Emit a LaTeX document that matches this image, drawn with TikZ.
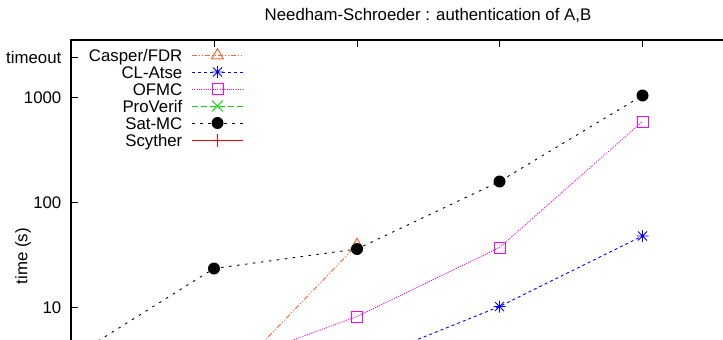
\documentclass[tikz,border=0pt]{standalone}
\usepackage{fontspec}
\setmainfont{Liberation Sans}
\usetikzlibrary{shapes.geometric}

\definecolor{caspercol}{RGB}{255,100,40}
\definecolor{clatsecol}{RGB}{0,0,255}
\definecolor{ofmccol}{RGB}{255,0,255}
\definecolor{proverifcol}{RGB}{0,220,0}
\definecolor{scythercol}{RGB}{255,0,0}

\begin{document}
\begin{tikzpicture}[x=1pt,y=-1pt,
  lbl/.style={font=\fontsize{16.8}{20}\selectfont, inner sep=0pt},
  frame/.style={line width=1.3pt, black},
  axistick/.style={line width=1pt, black},
  series/.style={line width=0.9pt},
  casperline/.style={series, caspercol, dash pattern=on 5pt off 2pt on 1pt off 2pt on 1pt off 2pt},
  clatseline/.style={series, clatsecol, dash pattern=on 3pt off 3pt},
  ofmcline/.style={series, ofmccol, dash pattern=on 1pt off 1.3pt},
  proverifline/.style={series, proverifcol, dash pattern=on 6pt off 3pt},
  satline/.style={series, black, dash pattern=on 2.5pt off 5.5pt},
  scytherline/.style={series, scythercol},
  satmark/.style={circle, fill=black, inner sep=0pt, minimum size=12pt},
  ofmcmark/.style={rectangle, draw=ofmccol, line width=1pt, inner sep=0pt, minimum size=11pt},
  caspermark/.style={regular polygon, regular polygon sides=3, draw=caspercol, line width=1pt, inner sep=0pt, minimum size=13.5pt},
  pics/astmark/.style={code={
    \draw[line width=0.9pt, clatsecol] (-6,0) -- (6,0) (0,-6) -- (0,6)
      (-4.5,-4.5) -- (4.5,4.5) (-4.5,4.5) -- (4.5,-4.5);}},
  pics/crossmark/.style={code={
    \draw[line width=0.9pt, proverifcol] (-5.5,-5.5) -- (5.5,5.5) (-5.5,5.5) -- (5.5,-5.5);}},
  pics/plusmark/.style={code={
    \draw[line width=0.9pt, scythercol] (-6.5,0) -- (6.5,0) (0,-6.5) -- (0,6.5);}}
]
\useasboundingbox (0,0) rectangle (723,340);

% plot frame corners
\coordinate (corner) at (71,40);
\coordinate (topend) at (723,40);
\coordinate (leftend) at (71,340);

% data points (x: columns 0..4, y: log time)
\coordinate (s0) at (71,358);
\coordinate (s1) at (214,268.5);
\coordinate (s2) at (357,249);
\coordinate (s3) at (499.5,181.5);
\coordinate (s4) at (642.5,95.5);

\coordinate (c1) at (214,393);
\coordinate (c2) at (357,245);

\coordinate (o1) at (214,369);
\coordinate (o2) at (357,316.5);
\coordinate (o3) at (499.5,247.5);
\coordinate (o4) at (642.5,121.5);

\coordinate (a2) at (357,364);
\coordinate (a3) at (499.5,306.5);
\coordinate (a4) at (642.5,236);

% curves, clipped to the plot area
\begin{scope}
  \clip (71,40) rectangle (723,340);
  \draw[casperline] (c1) -- (c2);
  \draw[clatseline] (a2) -- (a3) -- (a4);
  \draw[ofmcline] (o1) -- (o2) -- (o3) -- (o4);
  \draw[satline] (s0) -- (s1) -- (s2) -- (s3) -- (s4);
\end{scope}

% point markers
\node[caspermark] (cm2) at (c2) {};
\pic at (a3) {astmark};
\pic at (a4) {astmark};
\node[ofmcmark] (om2) at (o2) {};
\node[ofmcmark] (om3) at (o3) {};
\node[ofmcmark] (om4) at (o4) {};
\node[satmark] (sm1) at (s1) {};
\node[satmark] (sm2) at (s2) {};
\node[satmark] (sm3) at (s3) {};
\node[satmark] (sm4) at (s4) {};

% frame and ticks
\draw[frame] (topend) -- (corner) -- (leftend);
\foreach \yy in {57,97,202.3,307.5}
  \draw[axistick] (71,\yy) -- (78,\yy);
\foreach \xx in {214,357,499.5,642}
  \draw[axistick] (\xx,40) -- (\xx,47);

% axis labels
\node[lbl, anchor=base east] (ytimeout) at (61.5,63) {timeout};
\node[lbl, anchor=base east] (y1000) at (61.5,103) {1000};
\node[lbl, anchor=base east] (y100) at (61.5,208.3) {100};
\node[lbl, anchor=base east] (y10) at (61.5,313.5) {10};
\node[lbl, rotate=90] (ytitle) at (23,256) {time (s)};

% title
\node[lbl, anchor=base] (title) at (428,20) {Needham-Schroeder : authentication of A,B};

% legend
\foreach \row/\name in {0/{Casper/FDR}, 1/CL-Atse, 2/OFMC, 3/ProVerif, 4/Sat-MC, 5/Scyther}
  \node[lbl, anchor=base east] (key\row) at (182.5,61.5+17*\row) {\name};

\coordinate (k0a) at (192,55);  \coordinate (k0b) at (243,55);
\coordinate (k1a) at (192,72);  \coordinate (k1b) at (243,72);
\coordinate (k2a) at (192,89);  \coordinate (k2b) at (243,89);
\coordinate (k3a) at (192,106); \coordinate (k3b) at (243,106);
\coordinate (k4a) at (192,123); \coordinate (k4b) at (243,123);
\coordinate (k5a) at (192,140); \coordinate (k5b) at (243,140);

\draw[casperline] (k0a) -- (k0b);
\node[caspermark] (km0) at (217.5,55.5) {};
\draw[clatseline] (k1a) -- (k1b);
\pic at (217.5,72) {astmark};
\draw[ofmcline] (k2a) -- (k2b);
\node[ofmcmark] (km2) at (217.5,89) {};
\draw[proverifline] (k3a) -- (k3b);
\pic at (217.5,106) {crossmark};
\draw[satline] (k4a) -- (k4b);
\node[satmark] (km4) at (217.5,123) {};
\draw[scytherline] (k5a) -- (k5b);
\pic at (217.5,140) {plusmark};
\end{tikzpicture}
\end{document}
